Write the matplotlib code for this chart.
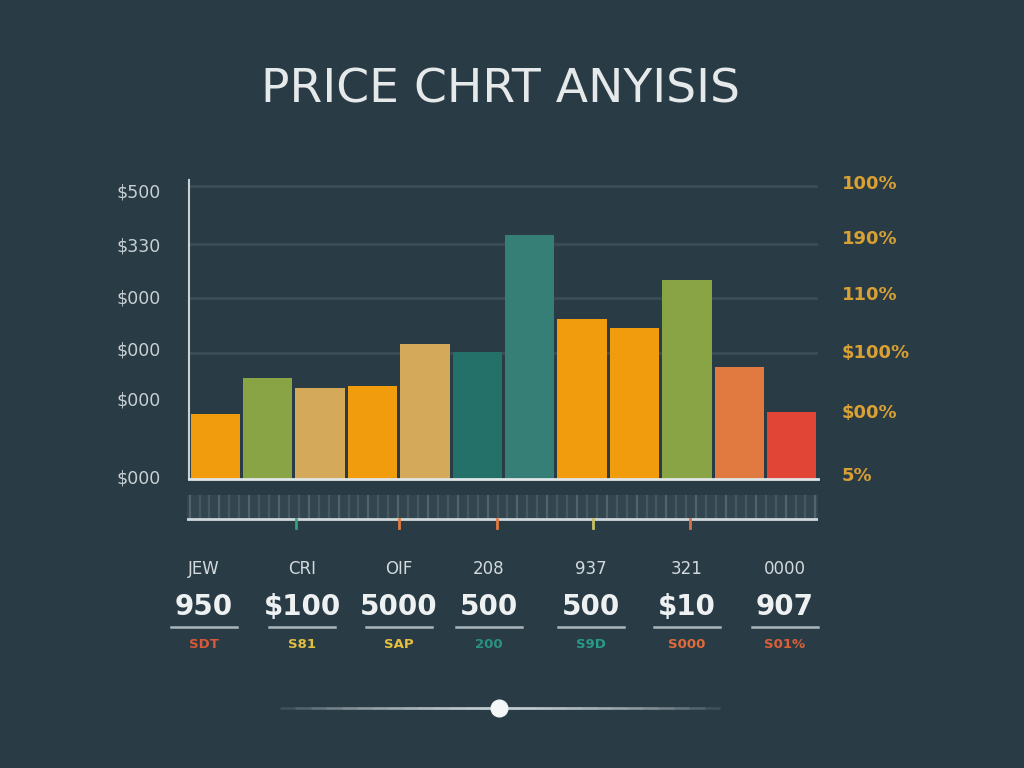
import numpy as np
import matplotlib.pyplot as plt

# bar heights (arbitrary price units)
bar_values = [65, 101, 91, 93, 135, 127, 244, 160, 151, 199, 112, 67]
bar_colors = ["#f09c0c", "#88a445", "#d4a95a", "#f09c0c", "#d4a95a", "#24716a",
              "#367f76", "#f09c0c", "#f09c0c", "#88a445", "#e07a40", "#e04535"]

grid_values = [126, 181, 235, 293]

left_ticks = [289, 235, 182, 131, 80, 2]
left_labels = ["$500", "$330", "$000", "$000", "$000", "$000"]
right_ticks = [297, 242, 186, 128, 68, 5]
right_labels = ["100%", "190%", "110%", "$100%", "$00%", "5%"]

# little coloured markers under the scroll strip
marker_pos = [1.58, 3.53, 5.40, 7.23, 9.06]
marker_colors = ["#2fa37a", "#e07a40", "#e07a40", "#c8c060", "#d8704a"]

# summary row at the bottom
top_labels = ["JEW", "CRI", "OIF", "208", "937", "321", "0000"]
value_labels = ["950", "$100", "5000", "500", "500", "$10", "907"]
sub_labels = ["SDT", "S81", "SAP", "200", "S9D", "S000", "S01%"]
sub_colors = ["#d8583a", "#e0c040", "#e8c040", "#2a9080", "#2a9a88", "#e06a3a", "#d8603a"]

bg = "#293b45"
W, H = 1024, 768

fig = plt.figure(figsize=(10.24, 7.68), dpi=100, facecolor=bg)

def rect(x0, y0, x1, y1):
    # pixel box (top-left origin) -> figure fraction
    return [x0 / W, 1 - y1 / H, (x1 - x0) / W, (y1 - y0) / H]

fig.text(0.489, 1 - 90 / H, "PRICE CHRT ANYISIS", ha="center", va="center",
         fontsize=34, color="#e6e9ea", family="DejaVu Sans")

# main bar chart
ax = fig.add_axes(rect(189, 180, 818, 479))
ax.set_facecolor(bg)
x = np.arange(len(bar_values))
for g in grid_values:
    ax.axhline(g, color="#3a4d57", lw=2, zorder=0)
ax.bar(x, bar_values, width=0.94, color=bar_colors, zorder=2)
ax.set_xlim(-0.5, len(bar_values) - 0.5)
ax.set_ylim(0, 299)
ax.set_xticks([])
ax.set_yticks(left_ticks)
ax.set_yticklabels(left_labels, fontsize=12.5, color="#c8d0d4")
ax.tick_params(axis="y", length=0, pad=20)
for s in ["top", "right"]:
    ax.spines[s].set_visible(False)
ax.spines["left"].set_color("#c8d0d4")
ax.spines["left"].set_linewidth(1.5)
ax.spines["bottom"].set_color("#e0e6e8")
ax.spines["bottom"].set_linewidth(2)
ax.spines["bottom"].set_zorder(3)

ax2 = ax.twinx()
ax2.set_ylim(0, 299)
ax2.set_yticks(right_ticks)
ax2.set_yticklabels(right_labels, fontsize=13, color="#d9a034", fontweight="bold")
ax2.tick_params(axis="y", length=0, pad=17)
for s in ax2.spines.values():
    s.set_visible(False)

# scroll strip under the chart
sx = fig.add_axes(rect(187, 494, 818, 530))
sx.set_facecolor(bg)
sx.set_xlim(-0.5, len(bar_values) - 0.5)
sx.set_ylim(0, 36)
sx.axhspan(11, 35, color="#33464f", lw=0)
for i, xs in enumerate(np.linspace(-0.45, 11.45, 64)):
    sx.plot([xs, xs], [12, 34], color="#5a6b73", lw=1.6, alpha=0.5 if i % 3 else 0.8)
sx.axhline(11, color="#d0d8dc", lw=2)
for p, c in zip(marker_pos, marker_colors):
    sx.plot([p, p], [2, 11], color=c, lw=2)
sx.axis("off")

# bottom summary / slider layer in pixel units
fx = fig.add_axes([0, 0, 1, 1])
fx.set_xlim(0, W)
fx.set_ylim(H, 0)
fx.axis("off")
fx.patch.set_alpha(0)
col_x = [204, 302, 399, 489, 591, 687, 785]
for cx, t, v, s, c in zip(col_x, top_labels, value_labels, sub_labels, sub_colors):
    fx.text(cx, 569, t, ha="center", va="center", fontsize=12, color="#d3d9dc")
    fx.text(cx, 607, v, ha="center", va="center", fontsize=20, color="#eef1f2",
            fontweight="bold")
    fx.plot([cx - 33, cx + 33], [627, 627], color="#aab6bc", lw=1.8)
    fx.text(cx, 645, s, ha="center", va="center", fontsize=9.5, color=c,
            fontweight="bold")

# fading slider line: overlapping strokes get brighter towards the knob
for half in np.linspace(220, 20, 14):
    fx.plot([500 - half, 500 + half], [708, 708], color="#dfe8ec", lw=1.8,
            alpha=0.13, solid_capstyle="butt")
fx.plot([499], [708], "o", ms=12, color="#f4f7f8", mec="#f4f7f8")

fig.savefig("out.png", dpi=100, facecolor=bg)
